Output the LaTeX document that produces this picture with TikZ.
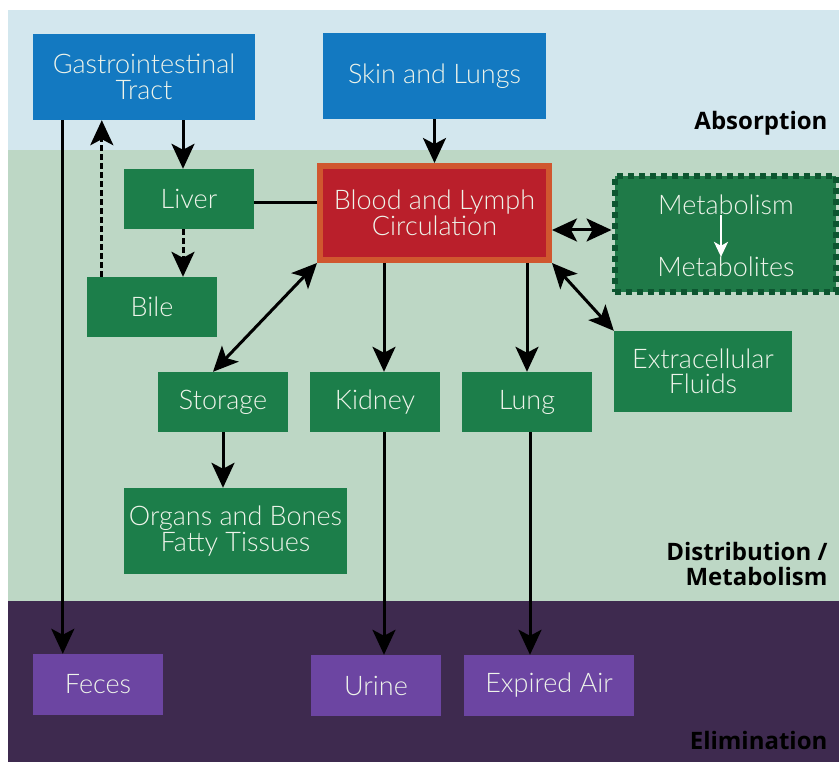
\documentclass[tikz,border=0pt]{standalone}
\usepackage{fontspec}
\setmainfont{Liberation Sans}
\newfontfamily\boxfont{Lato Light}
\newfontfamily\labfont{Open Sans}
\usetikzlibrary{arrows.meta,calc}
\definecolor{bgblue}{HTML}{D3E7EE}
\definecolor{bggreen}{HTML}{BDD7C5}
\definecolor{bgpurple}{HTML}{3E2A4F}
\definecolor{boxblue}{HTML}{1379C1}
\definecolor{boxgreen}{HTML}{1C7E4A}
\definecolor{metgreen}{HTML}{1F7A48}
\definecolor{metdot}{HTML}{0D5530}
\definecolor{boxred}{HTML}{BA1F2B}
\definecolor{rededge}{HTML}{D0572F}
\definecolor{boxpurple}{HTML}{6C45A2}
\definecolor{boxtext}{HTML}{EEF4EA}
\tikzset{
  bigtip/.tip={Stealth[length=25pt,width=23pt,inset=6pt]},
  box/.style={rectangle, inner sep=0pt, text=boxtext, align=center,
    font=\boxfont\fontsize{27}{25.5}\selectfont},
  bluebox/.style={box, fill=boxblue},
  greenbox/.style={box, fill=boxgreen},
  purplebox/.style={box, fill=boxpurple},
  redbox/.style={box, fill=boxred, draw=rededge, line width=6pt},
  metbox/.style={box, fill=metgreen, draw=metdot, line width=6pt, dash pattern=on 6pt off 5pt},
  phase/.style={anchor=base east, font=\labfont\bfseries\fontsize{24}{25}\selectfont, text=black, align=right},
  arr/.style={line width=3pt, -{bigtip}},
  darr/.style={line width=3pt, {bigtip}-{bigtip}},
  dasharr/.style={arr, dash pattern=on 6pt off 3pt},
  link/.style={line width=3pt}
}
\begin{document}
\begin{tikzpicture}[x=1pt,y=-1pt]
\useasboundingbox (0,0) rectangle (839,762);
\fill[white] (0,0) rectangle (839,762);
\fill[bgblue] (8,10) rectangle (839,150);
\fill[bggreen] (8,150) rectangle (839,601);
\fill[bgpurple] (8,601) rectangle (839,762);

% nodes
\node[bluebox, minimum width=222pt, minimum height=86pt] (gi) at (144,77) {Gastrointestinal\\Tract};
\node[bluebox, minimum width=223pt, minimum height=86pt] (skin) at (434.5,76) {Skin and Lungs};
\node[greenbox, minimum width=130pt, minimum height=60pt] (liver) at (189,199) {Liver};
\node[greenbox, minimum width=130pt, minimum height=60pt] (bile) at (152,307) {Bile};
\node[redbox, minimum width=229pt, minimum height=94pt] (blood) at (434.5,213) {Blood and Lymph\\Circulation};
\node[metbox, minimum width=221pt, minimum height=116pt] (metab) at (725,234.5) {};
\node[box] (metab1) at (726,205) {Metabolism};
\node[box] (metab2) at (726,267) {Metabolites};
\node[greenbox, minimum width=178pt, minimum height=81pt] (extra) at (703,371.5) {Extracellular\\Fluids};
\node[greenbox, minimum width=130pt, minimum height=60pt] (storage) at (223,402) {Storage};
\node[greenbox, minimum width=130pt, minimum height=60pt] (kidney) at (375,402) {Kidney};
\node[greenbox, minimum width=130pt, minimum height=60pt] (lung) at (527,402) {Lung};
\node[greenbox, minimum width=223pt, minimum height=86pt] (organs) at (235.5,531) {Organs and Bones\\Fatty Tissues};
\node[purplebox, minimum width=130pt, minimum height=61pt] (feces) at (98,684.5) {Feces};
\node[purplebox, minimum width=130pt, minimum height=61pt] (urine) at (376,685.5) {Urine};
\node[purplebox, minimum width=170pt, minimum height=61pt] (air) at (549,685.5) {Expired Air};

% phase labels
\node[phase] (absorption) at (831,130) {Absorption};
\node[phase] (distribution) at (831,585) {Distribution /\\Metabolism};
\node[phase] (elimination) at (831,749) {Elimination};

% connectors
\draw[arr] ([xshift=30pt]gi.south west) -- ([xshift=30pt]gi.south west |- feces.north);
\draw[arr] ([xshift=-6pt]liver.north |- gi.south) -- ([xshift=-6pt]liver.north);
\draw[dasharr] ([xshift=15pt]bile.north west) -- ([xshift=15pt]bile.north west |- gi.south);
\draw[dasharr] ([xshift=-6pt]liver.south) -- ([xshift=-6pt]liver.south |- bile.north);
\draw[link] ([yshift=-4pt]liver.east) -- ([yshift=-4pt]liver.east -| blood.west);
\draw[arr] (skin.south) -- (blood.north);
\draw[darr] (blood.south west) -- ([xshift=-10pt]storage.north);
\draw[arr] ([xshift=9pt]kidney.north |- blood.south) -- ([xshift=9pt]kidney.north);
\draw[arr] (lung.north |- blood.south) -- (lung.north);
\draw[darr] ([yshift=-17pt]blood.east) -- ([yshift=-17pt]blood.east -| metab.west);
\draw[darr] (blood.south east) -- (extra.north west);
\draw[arr] (storage.south) -- (storage.south |- organs.north);
\draw[arr] ([xshift=9pt]kidney.south) -- ([xshift=9pt]kidney.south |- urine.north);
\draw[arr] ([xshift=3pt]lung.south) -- ([xshift=3pt]lung.south |- air.north);
\draw[white, line width=2.5pt, -{Stealth[length=15pt,width=14pt,inset=4pt]}] ([xshift=-5pt]metab1.south) -- ([xshift=-5pt]metab2.north);
\end{tikzpicture}
\end{document}
